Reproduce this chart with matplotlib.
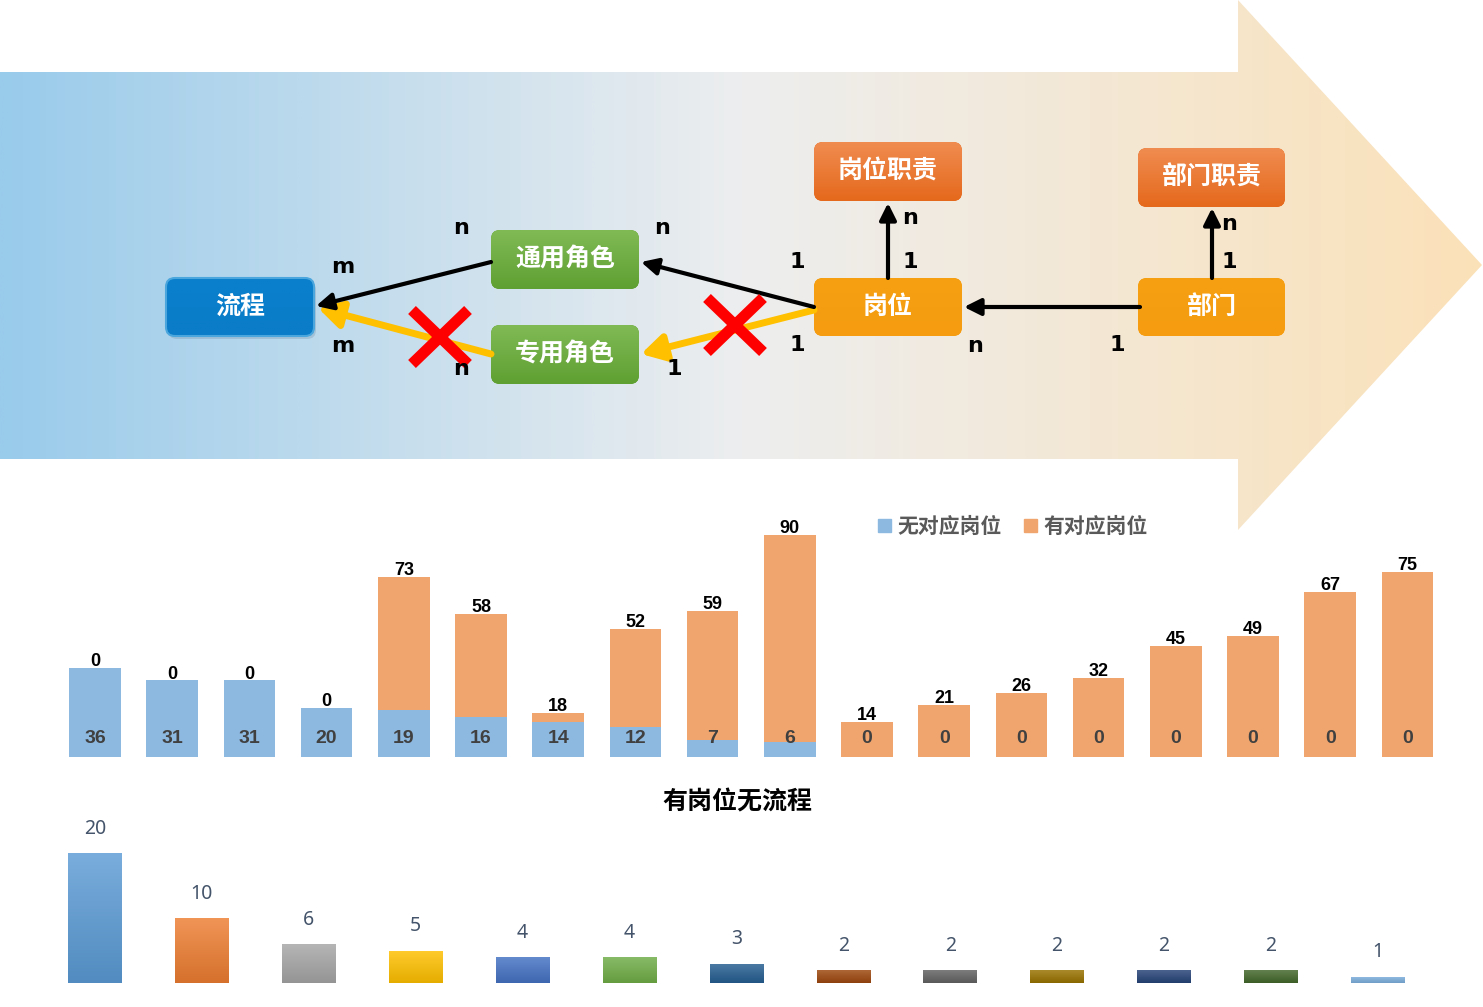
import numpy as np
import matplotlib
matplotlib.use('Agg')
import matplotlib.pyplot as plt
from matplotlib.patches import Polygon, FancyBboxPatch, Patch
from matplotlib.colors import LinearSegmentedColormap, to_rgb

plt.rcParams['font.family'] = ['Noto Sans CJK SC', 'DejaVu Sans']

# stacked (overlapped) chart: posts without / with matching post
legend_labels = ['无对应岗位', '有对应岗位']
no_post = [36, 31, 31, 20, 19, 16, 14, 12, 7, 6, 0, 0, 0, 0, 0, 0, 0, 0]
has_post = [0, 0, 0, 0, 73, 58, 18, 52, 59, 90, 14, 21, 26, 32, 45, 49, 67, 75]

# lower chart
title2 = '有岗位无流程'
post_no_flow = [20, 10, 6, 5, 4, 4, 3, 2, 2, 2, 2, 2, 1]
bar_colors = ['#5B9BD5', '#ED7D31', '#A5A5A5', '#FFC000', '#4472C4', '#70AD47', '#255E91',
              '#9E480E', '#636363', '#997300', '#264478', '#43682B', '#7CAFDD']

# diagram boxes: name -> (x, y, w, h, top colour, bottom colour)
boxes = {
    '流程': (166, 278, 148, 58, '#0A80CC', '#0A7CC8'),
    '通用角色': (491, 230, 148, 59, '#80BA55', '#5FA032'),
    '专用角色': (491, 325, 148, 59, '#80BA55', '#5FA032'),
    '岗位职责': (814, 142, 148, 59, '#F08C50', '#E5691C'),
    '岗位': (814, 278, 148, 58, '#F6A012', '#F59C10'),
    '部门职责': (1138, 148, 147, 59, '#F08C50', '#E5691C'),
    '部门': (1138, 278, 147, 58, '#F6A012', '#F59C10'),
}
# (start, end, colour)
links = [
    ((491, 354), (318, 308), '#FFC000'),
    ((814, 310), (641, 354), '#FFC000'),
    ((491, 262), (316, 306), 'black'),
    ((814, 307), (641, 262), 'black'),
    ((888, 278), (888, 203), 'black'),
    ((1212, 278), (1212, 208), 'black'),
    ((1140, 307), (964, 307), 'black'),
]
cardinality = [('n', 461, 228), ('n', 662, 228), ('m', 343, 267), ('m', 343, 346),
               ('n', 461, 369), ('1', 674, 369), ('1', 797, 262), ('1', 797, 345),
               ('n', 910, 218), ('1', 910, 262), ('n', 975, 346), ('1', 1117, 345),
               ('n', 1229, 224), ('1', 1229, 262)]
crosses = [(440, 337), (735, 325)]

W, H = 1483, 1007


def shade(c, f):
    r = np.array(to_rgb(c))
    return tuple(r + (1 - r) * f) if f > 0 else tuple(r * (1 + f))


def grad_box(ax, x0, y0, w, h, c_top, c_bot, z=3):
    patch = FancyBboxPatch((x0, y0), w, h, boxstyle='round,pad=0,rounding_size=9',
                           fc=c_bot, ec='none', zorder=z)
    ax.add_patch(patch)
    cm = LinearSegmentedColormap.from_list('', [c_top, c_bot])
    im = ax.imshow(np.linspace(0, 1, 64).reshape(-1, 1), extent=[x0, x0 + w, y0 + h, y0],
                   cmap=cm, aspect='auto', zorder=z + 0.1)
    im.set_clip_path(patch)


def main():
    fig = plt.figure(figsize=(W / 100, H / 100), dpi=100)

    bg = fig.add_axes([0, 0, 1, 1])
    bg.axis('off')

    # big gradient arrow
    cmap_bg = LinearSegmentedColormap.from_list('bg', ['#99CBEB', '#EDEEEF', '#FBE1B8'])
    im = bg.imshow(np.linspace(0, 1, 512).reshape(1, -1), extent=[0, 1483, 531, 0],
                   cmap=cmap_bg, aspect='auto', zorder=0)
    arrow = Polygon([(0, 72), (1238, 72), (1238, 0), (1482, 265), (1238, 530), (1238, 459), (0, 459)],
                    closed=True, fc='none', ec='none')
    bg.add_patch(arrow)
    im.set_clip_path(arrow)

    # shadow under 流程
    bg.add_patch(FancyBboxPatch((168, 281), 148, 58, boxstyle='round,pad=0,rounding_size=9',
                                fc='#7a98b0', ec='none', alpha=0.35, zorder=2))
    for name, (x0, y0, w, h, ct, cb) in boxes.items():
        grad_box(bg, x0, y0, w, h, ct, cb)
        bg.text(x0 + w / 2, y0 + h / 2, name, ha='center', va='center', color='white',
                fontsize=18, fontweight='bold', zorder=5)
    bg.add_patch(FancyBboxPatch((166, 278), 148, 58, boxstyle='round,pad=0,rounding_size=9',
                                fc='none', ec='#4AA6DC', lw=1.5, zorder=4))

    for (s, e, c) in links:
        if c == 'black':
            props = dict(arrowstyle='-|>,head_length=0.5,head_width=0.25', lw=3, color=c,
                         shrinkA=0, shrinkB=0, mutation_scale=20)
        else:
            props = dict(arrowstyle='-|>,head_length=0.7,head_width=0.4', lw=5, color=c,
                         shrinkA=0, shrinkB=0, mutation_scale=20)
        bg.annotate('', xy=e, xytext=s, arrowprops=props, zorder=6)

    for (cx, cy) in crosses:
        bg.plot([cx - 28, cx + 28], [cy - 27, cy + 27], color='#FF0000', lw=8, solid_capstyle='butt', zorder=7)
        bg.plot([cx + 28, cx - 28], [cy - 27, cy + 27], color='#FF0000', lw=8, solid_capstyle='butt', zorder=7)

    for (t, x, y) in cardinality:
        bg.text(x, y, t, ha='center', va='center', fontsize=16, fontweight='bold',
                family=['DejaVu Sans'], color='black', zorder=8)

    bg.set_xlim(0, W)
    bg.set_ylim(H, 0)

    # overlapped bar chart
    blue, orange = '#8DB9E1', '#F1A56E'
    ax = fig.add_axes([56.4 / W, 1 - 757 / H, 1389.6 / W, 237 / H])
    ax.set_facecolor('none')
    x = np.arange(len(no_post))
    hp = np.array(has_post)
    npst = np.array(no_post)
    ax.bar(x, hp, width=0.67, color=orange, zorder=2)
    ax.bar(x, npst, width=0.67, color=blue, zorder=3)
    for i in x:
        top = max(hp[i], npst[i])
        ax.text(i, top + 2.6, str(hp[i]), ha='center', va='center', fontsize=13, fontweight='bold',
                family=['Liberation Sans Narrow', 'Liberation Sans'], color='black', zorder=4)
        ax.text(i, 7.6, str(npst[i]), ha='center', va='center', fontsize=14, fontweight='bold',
                family=['Liberation Sans Narrow', 'Liberation Sans'], color='#404040', zorder=4)
    ax.set_xlim(-0.5, len(no_post) - 0.5)
    ax.set_ylim(0, 237 / 2.47)
    ax.axis('off')
    fig.legend(handles=[Patch(color=blue), Patch(color=orange)], labels=legend_labels,
               loc='center', bbox_to_anchor=(1013 / W, 1 - 526 / H), ncol=2, frameon=False,
               handlelength=0.6, handleheight=0.6, handletextpad=0.3, columnspacing=1.1,
               labelcolor='#595959', prop=dict(weight='bold', size=15))

    # lower chart
    fig.text(737 / W, 1 - 802 / H, title2, ha='center', va='center', fontsize=18, fontweight='bold')
    ax2 = fig.add_axes([41.55 / W, 1 - 983 / H, 1389.7 / W, 143 / H])
    ax2.set_facecolor('none')
    x2 = np.arange(len(post_no_flow))
    bars = ax2.bar(x2, post_no_flow, width=0.5, color='none')
    for b, c, v in zip(bars, bar_colors, post_no_flow):
        x0 = b.get_x()
        cm = LinearSegmentedColormap.from_list('', [shade(c, 0.18), shade(c, -0.1)])
        im2 = ax2.imshow(np.linspace(0, 1, 64).reshape(-1, 1), extent=[x0, x0 + b.get_width(), 0, v],
                         cmap=cm, aspect='auto', zorder=2)
        im2.set_clip_path(b)
        ax2.text(b.get_x() + b.get_width() / 2, v + 3.7, str(v), ha='center', va='center',
                 fontsize=14, family=['Noto Sans'], color='#44546A')
    ax2.set_xlim(-0.5, len(post_no_flow) - 0.5)
    ax2.set_ylim(0, 22)
    ax2.axis('off')

    fig.savefig('out.png', dpi=100)


if __name__ == "__main__":
    main()
